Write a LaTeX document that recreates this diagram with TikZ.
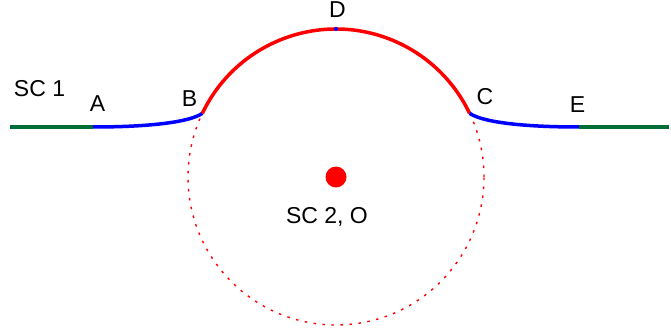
\documentclass[tikz,border=0pt]{standalone}
\usepackage{fontspec}
\setmainfont{Liberation Sans}
\definecolor{trackgreen}{RGB}{0,110,55}
\begin{document}
\begin{tikzpicture}[x=1pt, y=1pt,
	lbl/.style={anchor=base, inner sep=0pt, font=\fontsize{23}{27}\selectfont},
	track/.style={line width=3.5pt}]
	\useasboundingbox (0,0) rectangle (671,332);

	% Define points with their coordinates
	\coordinate (O) at (336,155);
	\coordinate (L) at (10,205);
	\coordinate (A) at (93,205);
	\coordinate (B) at (202.4,218.7);
	\coordinate (D) at (336,303);
	\coordinate (C) at (469.6,218.7);
	\coordinate (E) at (579,205);
	\coordinate (R) at (669,205);

	% Dotted circle of SC 2
	\draw[red, line width=1.4pt, dash pattern=on 2.5pt off 6.5pt] (O) circle (148pt);

	% Draw the track
	\draw[trackgreen, track] (L) -- (A);
	\draw[blue, track] (A) .. controls (150,205) and (190,210) .. (B);
	\draw[red, track] (B) arc[start angle=154.5, end angle=25.5, radius=148pt];
	\draw[blue, track] (C) .. controls (482,210) and (522,205) .. (E);
	\draw[trackgreen, track] (E) -- (R);

	% Centre and top point
	\node[circle, fill=red, inner sep=0pt, minimum size=21pt] (Odot) at (O) {};
	\node[circle, fill=blue, inner sep=0pt, minimum size=4pt] (Ddot) at (D) {};

	% Labels
	\node[lbl] (sc1) at (39.5,235) {SC 1};
	\node[lbl] (lA) at (97.5,220) {A};
	\node[lbl] (lB) at (189.5,225) {B};
	\node[lbl] (lD) at (337.5,314) {D};
	\node[lbl] (lC) at (485,227) {C};
	\node[lbl] (lE) at (577.5,219) {E};
	\node[lbl] (sc2) at (327,109) {SC 2, O};

\end{tikzpicture}
\end{document}
